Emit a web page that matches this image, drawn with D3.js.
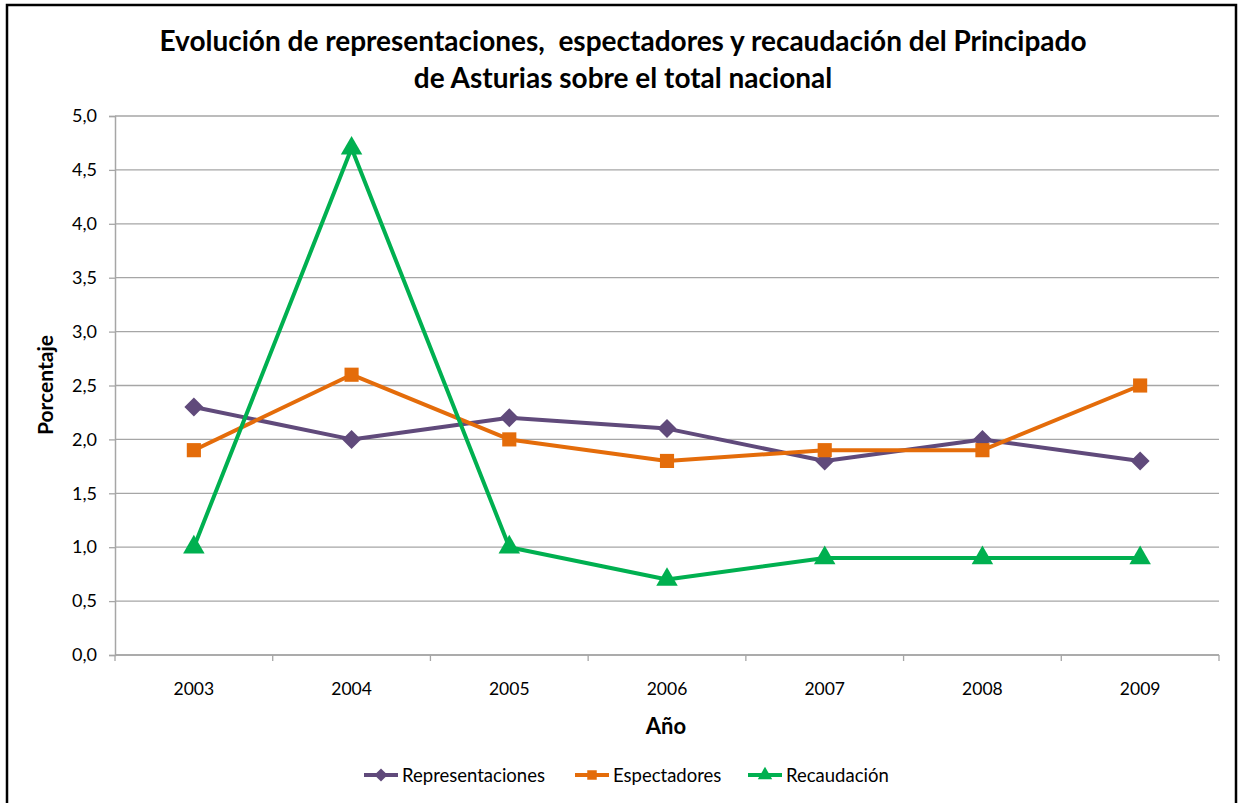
<!DOCTYPE html>
<html>
<head>
<meta charset="utf-8">
<script src="https://cdn.jsdelivr.net/npm/d3@7"></script>
<style>
  body { margin: 0; background: #fff; }
  text { font-family: Lato, "Open Sans", sans-serif; fill: #000; }
</style>
</head>
<body>
<svg id="chart" width="1244" height="803"></svg>
<script>
var years = ['2003', '2004', '2005', '2006', '2007', '2008', '2009'];
var representaciones = [2.3, 2.0, 2.2, 2.1, 1.8, 2.0, 1.8];
var espectadores = [1.9, 2.6, 2.0, 1.8, 1.9, 1.9, 2.5];
var recaudacion = [1.0, 4.7, 1.0, 0.7, 0.9, 0.9, 0.9];
var yTicks = [0, 0.5, 1, 1.5, 2, 2.5, 3, 3.5, 4, 4.5, 5];

var series = [
  {name: 'Representaciones', values: representaciones, color: '#604A7B', symbol: d3.symbolDiamond2},
  {name: 'Espectadores', values: espectadores, color: '#E46C0A', symbol: d3.symbolSquare},
  {name: 'Recaudación', values: recaudacion, color: '#00B050', symbol: d3.symbolTriangle}
];

var margin = {top: 116, right: 25, bottom: 148, left: 115},
    width = 1244 - margin.left - margin.right,
    height = 803 - margin.top - margin.bottom;

var svg = d3.select('#chart');

// outer frame (no bottom edge visible in the original)
svg.append('path')
    .attr('d', 'M7,803 V5 H1236 V803')
    .attr('fill', 'none')
    .attr('stroke', '#000')
    .attr('stroke-width', 2.5);

svg.append('text')
    .attr('x', 623).attr('y', 51)
    .attr('text-anchor', 'middle')
    .style('font-size', '28px').style('font-weight', 'bold')
    .style('white-space', 'pre')
    .text('Evolución de representaciones,  espectadores y recaudación del Principado');
svg.append('text')
    .attr('x', 623).attr('y', 88)
    .attr('text-anchor', 'middle')
    .style('font-size', '28px').style('font-weight', 'bold')
    .text('de Asturias sobre el total nacional');

var g = svg.append('g')
    .attr('transform', 'translate(' + margin.left + ',' + margin.top + ')');

var x = d3.scaleBand().domain(years).range([0, width]);
var y = d3.scaleLinear().domain([0, 5]).range([height, 0]);

// gridlines
g.append('g').selectAll('line')
    .data(yTicks)
    .join('line')
    .attr('x1', 0).attr('x2', width)
    .attr('y1', d => y(d)).attr('y2', d => y(d))
    .attr('stroke', '#a6a6a6').attr('stroke-width', 1.3);

var yAxis = g.append('g')
    .call(d3.axisLeft(y).tickValues(yTicks).tickSize(6).tickPadding(12)
        .tickFormat(d => d3.format('.1f')(d).replace('.', ',')));
yAxis.select('.domain').attr('stroke', '#a6a6a6').attr('stroke-width', 1.5);
yAxis.selectAll('.tick line').attr('stroke', '#a6a6a6').attr('stroke-width', 1.3);
yAxis.selectAll('text').style('font-size', '18px').style('font-family', 'Lato, sans-serif');

var xAxisG = g.append('g').attr('transform', 'translate(0,' + height + ')');
xAxisG.append('line').attr('x1', 0).attr('x2', width)
    .attr('stroke', '#a6a6a6').attr('stroke-width', 1.5);
xAxisG.selectAll('line.tk')
    .data(years.concat(['end']))
    .join('line')
    .attr('class', 'tk')
    .attr('x1', (d, i) => i * x.step()).attr('x2', (d, i) => i * x.step())
    .attr('y1', 0).attr('y2', 6)
    .attr('stroke', '#a6a6a6').attr('stroke-width', 1.3);
xAxisG.selectAll('text')
    .data(years)
    .join('text')
    .attr('x', d => x(d) + x.bandwidth() / 2)
    .attr('y', 40)
    .attr('text-anchor', 'middle')
    .style('font-size', '17.5px')
    .text(d => d);

svg.append('text')
    .attr('x', 666).attr('y', 734)
    .attr('text-anchor', 'middle')
    .style('font-size', '22px').style('font-weight', 'bold')
    .text('Año');

svg.append('text')
    .attr('transform', 'translate(53,385) rotate(-90)')
    .attr('text-anchor', 'middle')
    .style('font-size', '21px').style('font-weight', 'bold')
    .text('Porcentaje');

var line = d3.line()
    .x((d, i) => x(years[i]) + x.bandwidth() / 2)
    .y(d => y(d));

series.forEach(s => {
  g.append('path')
      .datum(s.values)
      .attr('d', line)
      .attr('fill', 'none')
      .attr('stroke', s.color)
      .attr('stroke-width', 4)
      .attr('stroke-linejoin', 'round');
  g.selectAll(null)
      .data(s.values)
      .join('path')
      .attr('transform', (d, i) => 'translate(' + (x(years[i]) + x.bandwidth() / 2) + ',' + y(d) + ')')
      .attr('d', d3.symbol().type(s.symbol).size(s.symbol === d3.symbolDiamond2 ? 230 : 200))
      .attr('fill', s.color);
});

// legend
var legendX = [364, 575, 748];
var legend = svg.append('g').attr('transform', 'translate(0,775)');
series.forEach((s, i) => {
  var lg = legend.append('g').attr('transform', 'translate(' + legendX[i] + ',0)');
  lg.append('line').attr('x1', 0).attr('x2', 34)
      .attr('stroke', s.color).attr('stroke-width', 4);
  lg.append('path')
      .attr('transform', 'translate(17,0)')
      .attr('d', d3.symbol().type(s.symbol).size(s.symbol === d3.symbolDiamond2 ? 110 : 90))
      .attr('fill', s.color);
  lg.append('text')
      .attr('x', 38).attr('y', 6.5)
      .style('font-size', '18.5px')
      .text(s.name);
});
</script>
</body>
</html>
